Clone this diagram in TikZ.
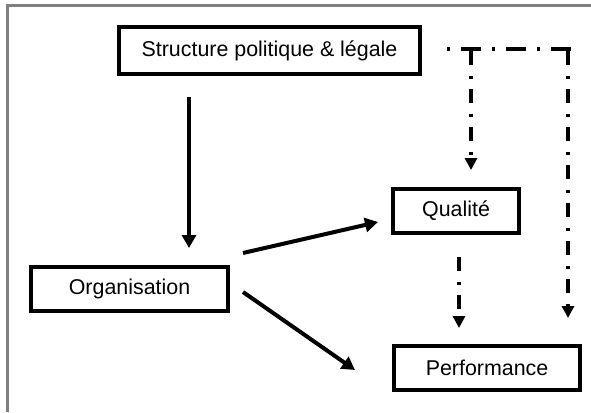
\documentclass[tikz,border=0pt]{standalone}
\usepackage{fontspec}
\setmainfont{Liberation Sans}
\usetikzlibrary{arrows.meta}
\definecolor{framegray}{HTML}{808080}
\begin{document}
\begin{tikzpicture}[x=1pt,y=-1pt,
  box/.style={draw=black, line width=4pt, rectangle, inner sep=0pt,
    font=\fontsize{21.4}{25}\selectfont},
  arr/.style={line width=4pt, -{Triangle[width=14pt,length=13pt]}},
  ddv/.style={line width=4pt, dash pattern=on 14pt off 11pt on 3pt off 10pt},
  ddh/.style={line width=4pt, dash pattern=on 3pt off 11pt on 20pt off 11pt},
  ddtip/.style={-{Triangle[width=12pt,length=12pt]}}]
\useasboundingbox (0,0) rectangle (591,412);
\fill[white] (0,0) rectangle (591,412);
\draw[framegray, line width=3pt] (7.5,412) -- (7.5,5.5) -- (591,5.5);

\node[box, minimum width=301pt, minimum height=47pt] (s) at (269.5,50.5) {Structure politique \& légale};
\node[box, minimum width=126pt, minimum height=44pt] (q) at (456,211) {Qualité};
\node[box, minimum width=197pt, minimum height=44pt] (o) at (129.5,289) {Organisation};
\node[box, minimum width=186pt, minimum height=44pt] (p) at (487,368) {Performance};

% solid arrows
\coordinate (sv1) at (189,97);   \coordinate (sv2) at (189,248);
\coordinate (oq1) at (243,253);  \coordinate (oq2) at (378,222);
\coordinate (op1) at (243,292);  \coordinate (op2) at (355,370);
\draw[arr] (sv1) -- (sv2);
\draw[arr] (oq1) -- (oq2);
\draw[arr] (op1) -- (op2);

% dash-dot connectors
\coordinate (h1) at (447,49);  \coordinate (h2) at (572,49);
\coordinate (l1) at (471,51);  \coordinate (l2) at (471,170);
\coordinate (r1) at (568,51);  \coordinate (r2) at (568,318);
\coordinate (qp1) at (459,257); \coordinate (qp2) at (459,328);
\draw[ddh] (h1) -- (h2);
\draw[ddv, ddtip] (l1) -- (l2);
\draw[ddv, ddtip] (r1) -- (r2);
\draw[ddv, ddtip] (qp1) -- (qp2);
\end{tikzpicture}
\end{document}
